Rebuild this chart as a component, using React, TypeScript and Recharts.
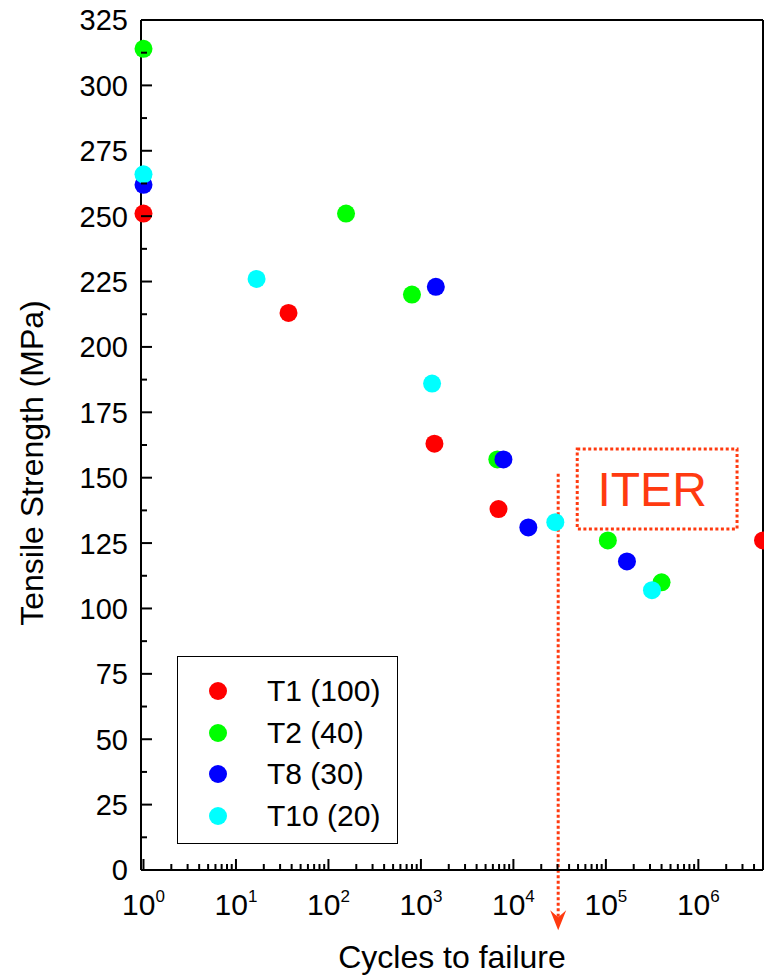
import React from 'react';
import {
  ScatterChart,
  Scatter,
  XAxis,
  YAxis,
  Legend,
  ReferenceArea,
  ReferenceLine,
  ReferenceDot,
  Customized,
} from 'recharts';

const FONT = '"Liberation Sans", Arial, Helvetica, sans-serif';
const ITER_RED = '#ff3a10';

// series
const seriesNames = ['T1 (100)', 'T2 (40)', 'T8 (30)', 'T10 (20)'];
const seriesColors = ['#ff0000', '#00ff00', '#0000ff', '#00ffff'];

const t1Cycles = [1, 37, 1400, 6900, 5000000];
const t1Strength = [251, 213, 163, 138, 126];

const t2Cycles = [1, 155, 800, 6700, 105000, 400000];
const t2Strength = [314, 251, 220, 157, 126, 110];

const t8Cycles = [1, 1450, 7800, 14500, 169000];
const t8Strength = [262, 223, 157, 131, 118];

const t10Cycles = [1, 16.7, 1320, 28400, 315000];
const t10Strength = [266, 226, 186, 133, 107];

// axes
const X_DOMAIN = [0.94, 5000000];
const Y_DOMAIN = [0, 325];
const majorXTicks = [1, 10, 100, 1000, 10000, 100000, 1000000];
const minorMultipliers = [2, 3, 4, 5, 6, 7, 8, 9];
const yTickLabels = [0, 25, 50, 75, 100, 125, 150, 175, 200, 225, 250, 275, 300, 325];
const yMinorTicks = [12.5, 37.5, 62.5, 87.5, 112.5, 137.5, 162.5, 187.5, 212.5, 237.5, 262.5, 287.5, 312.5];

// ITER annotation
const iterCycles = 30500;
const iterLineTop = 151.5;
const iterArrowTip = -23;
const iterBox = { x1: 49000, x2: 2620000, y1: 130.4, y2: 161 };

const allXTicks = [
  ...majorXTicks,
  ...majorXTicks.flatMap((d) => minorMultipliers.map((m) => m * d)),
]
  .filter((v) => v <= X_DOMAIN[1])
  .sort((a, b) => a - b);
const allYTicks = [...yTickLabels, ...yMinorTicks].sort((a, b) => a - b);

const toPoints = (xs: number[], ys: number[]) => xs.map((x, i) => ({ x, y: ys[i] }));
const seriesData = [
  toPoints(t1Cycles, t1Strength),
  toPoints(t2Cycles, t2Strength),
  toPoints(t8Cycles, t8Strength),
  toPoints(t10Cycles, t10Strength),
];

const isDecade = (v: number) => {
  const e = Math.round(Math.log10(v));
  return Math.abs(v - Math.pow(10, e)) < 1e-6 * v;
};

const BottomTick = (props: any) => {
  const { x, y, payload } = props;
  const major = isDecade(payload.value);
  const exp = Math.round(Math.log10(payload.value));
  return (
    <g>
      <line x1={x} y1={y} x2={x} y2={y - (major ? 11 : 6)} stroke="#000" strokeWidth={2} />
      {major && (
        <text x={x} y={y + 45} textAnchor="middle" fontSize={30} fontFamily={FONT} fill="#000">
          10
          <tspan dy={-13} fontSize={17}>
            {exp}
          </tspan>
        </text>
      )}
    </g>
  );
};

const TopTick = (props: any) => {
  const { x, y, payload } = props;
  const major = isDecade(payload.value);
  return <line x1={x} y1={y} x2={x} y2={y + (major ? 11 : 6)} stroke="#000" strokeWidth={2} />;
};

const LeftTick = (props: any) => {
  const { x, y, payload } = props;
  const major = payload.value % 25 === 0;
  return (
    <g>
      <line x1={x} y1={y} x2={x + (major ? 11 : 6)} y2={y} stroke="#000" strokeWidth={2} />
      {major && (
        <text x={x - 13} y={y} dy="0.36em" textAnchor="end" fontSize={29} fontFamily={FONT} fill="#000">
          {payload.value}
        </text>
      )}
    </g>
  );
};

const RightTick = (props: any) => {
  const { x, y, payload } = props;
  const major = payload.value % 25 === 0;
  return <line x1={x} y1={y} x2={x - (major ? 11 : 6)} y2={y} stroke="#000" strokeWidth={2} />;
};

const LegendBox = () => (
  <div
    style={{
      boxSizing: 'border-box',
      width: 221,
      height: 188,
      border: '1.5px solid #000',
      background: '#fff',
      paddingTop: 13,
      fontFamily: FONT,
    }}
  >
    {seriesNames.map((name, i) => (
      <div key={name} style={{ display: 'flex', alignItems: 'center', height: 41.7 }}>
        <svg width={18} height={18} style={{ marginLeft: 31 }}>
          <circle cx={9} cy={9} r={9} fill={seriesColors[i]} />
        </svg>
        <span style={{ marginLeft: 40, fontSize: 30, color: '#000', lineHeight: 1 }}>{name}</span>
      </div>
    ))}
  </div>
);

const ArrowHead = (props: any) => {
  const { cx, cy } = props;
  return (
    <path
      d={`M${cx},${cy} L${cx - 8},${cy - 20} L${cx},${cy - 13} L${cx + 8},${cy - 20} Z`}
      fill={ITER_RED}
    />
  );
};

const AxisTitles = () => (
  <g fontFamily={FONT} fill="#000">
    <text x={452} y={968} textAnchor="middle" fontSize={32}>
      Cycles to failure
    </text>
    <text transform="translate(43, 463) rotate(-90)" textAnchor="middle" fontSize={32}>
      Tensile Strength (MPa)
    </text>
  </g>
);

export default function App() {
  const axisLine = { stroke: '#000', strokeWidth: 2 };
  return (
    <div style={{ position: 'absolute', left: 0, top: 0, background: '#fff' }}>
      <ScatterChart width={764} height={976} margin={{ top: 19, right: 0, bottom: 0, left: 0 }}>
        <XAxis
          xAxisId="bottom"
          dataKey="x"
          type="number"
          scale="log"
          domain={X_DOMAIN}
          ticks={allXTicks}
          interval={0}
          height={106}
          axisLine={axisLine}
          tickLine={false}
          tickSize={0}
          tickMargin={0}
          tick={<BottomTick />}
        />
        <XAxis
          xAxisId="top"
          orientation="top"
          dataKey="x"
          type="number"
          scale="log"
          domain={X_DOMAIN}
          ticks={allXTicks}
          interval={0}
          height={1}
          axisLine={axisLine}
          tickLine={false}
          tickSize={0}
          tickMargin={0}
          tick={<TopTick />}
        />
        <YAxis
          yAxisId="left"
          dataKey="y"
          type="number"
          domain={Y_DOMAIN}
          ticks={allYTicks}
          interval={0}
          width={141}
          axisLine={axisLine}
          tickLine={false}
          tickSize={0}
          tickMargin={0}
          tick={<LeftTick />}
        />
        <YAxis
          yAxisId="right"
          orientation="right"
          dataKey="y"
          type="number"
          domain={Y_DOMAIN}
          ticks={allYTicks}
          interval={0}
          width={1}
          axisLine={axisLine}
          tickLine={false}
          tickSize={0}
          tickMargin={0}
          tick={<RightTick />}
        />
        <ReferenceArea
          xAxisId="bottom"
          yAxisId="left"
          x1={iterBox.x1}
          x2={iterBox.x2}
          y1={iterBox.y1}
          y2={iterBox.y2}
          fill="#fff"
          fillOpacity={0}
          stroke={ITER_RED}
          strokeWidth={3}
          strokeDasharray="3 2.5"
          ifOverflow="visible"
          label={{ value: 'ITER', position: 'center', fill: ITER_RED, fontSize: 48, fontFamily: FONT, dx: -5 }}
        />
        <ReferenceLine
          xAxisId="bottom"
          yAxisId="left"
          segment={[
            { x: iterCycles, y: iterLineTop },
            { x: iterCycles, y: iterArrowTip + 5 },
          ]}
          stroke={ITER_RED}
          strokeWidth={3}
          strokeDasharray="3 2.5"
          ifOverflow="visible"
        />
        <ReferenceDot
          xAxisId="bottom"
          yAxisId="left"
          x={iterCycles}
          y={iterArrowTip}
          ifOverflow="visible"
          shape={<ArrowHead />}
        />
        {seriesNames.map((name, i) => (
          <Scatter
            key={name}
            name={name}
            xAxisId="bottom"
            yAxisId="left"
            data={seriesData[i]}
            fill={seriesColors[i]}
            isAnimationActive={false}
            zIndex={1000}
            shape={(p: any) => <circle cx={p.cx} cy={p.cy} r={9} fill={seriesColors[i]} />}
          />
        ))}
        <Legend
          layout="horizontal"
          verticalAlign="middle"
          align="center"
          wrapperStyle={{ left: 177, top: 656, width: 221, height: 188 }}
          content={() => <LegendBox />}
        />
        <Customized component={AxisTitles} />
      </ScatterChart>
    </div>
  );
}
